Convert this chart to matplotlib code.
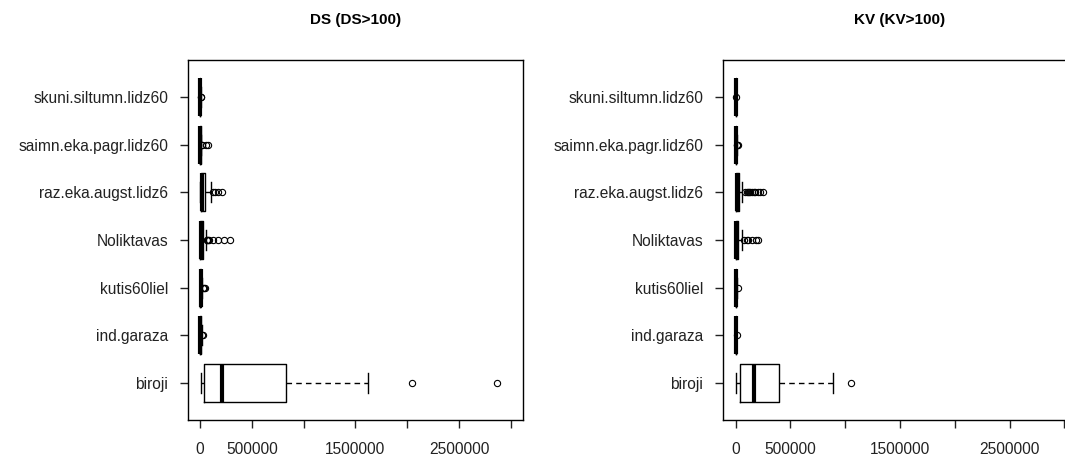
import matplotlib
matplotlib.use("Agg")
import matplotlib.pyplot as plt

plt.rcParams['font.family'] = ['Liberation Sans', 'DejaVu Sans']

categories = ['biroji', 'ind.garaza', 'kutis60liel', 'Noliktavas',
              'raz.eka.augst.lidz6', 'saimn.eka.pagr.lidz60', 'skuni.siltumn.lidz60']

# DS panel (DS>100)
ds_whislo = [10000, 0, 0, 0, 0, 0, 0]
ds_q1 = [36000, 2000, 3000, 3000, 5000, 1000, 1000]
ds_med = [215000, 4000, 6000, 8000, 15000, 3000, 2000]
ds_q3 = [830000, 8000, 10000, 25000, 45000, 6000, 4000]
ds_whishi = [1625000, 15000, 20000, 55000, 105000, 12000, 8000]
ds_fliers = [[2050000, 2865000],
             [20000, 25000],
             [30000, 40000, 50000],
             [65000, 72000, 80000, 90000, 130000, 177000, 235000, 290000],
             [125000, 140000, 175000, 215000],
             [18000, 22000, 55000, 80000],
             [11000, 14000]]

# KV panel (KV>100)
kv_whislo = [5000, 0, 0, 0, 0, 0, 0]
kv_q1 = [36000, 1000, 1000, 2000, 3000, 1000, 500]
kv_med = [167000, 2000, 2500, 6000, 8000, 2000, 1000]
kv_q3 = [398000, 4000, 5000, 22000, 33000, 4000, 2000]
kv_whishi = [885000, 7000, 10000, 55000, 60000, 8000, 3000]
kv_fliers = [[1052000],
             [9000],
             [25000],
             [76000, 100000, 115000, 152000, 182000, 206000],
             [85000, 100000, 115000, 125000, 135000, 150000, 165000, 180000, 200000, 220000, 246000],
             [12000, 15000, 18000],
             [5000]]

xticks = [0, 500000, 1000000, 1500000, 2000000, 2500000, 3000000]
xticklabels = ['0', '500000', '', '1500000', '', '2500000', '']
titles = ['DS (DS>100)', 'KV (KV>100)']

W, H = 1065, 457
fig = plt.figure(figsize=(W / 100, H / 100), dpi=100)

panels = [
    (ds_whislo, ds_q1, ds_med, ds_q3, ds_whishi, ds_fliers),
    (kv_whislo, kv_q1, kv_med, kv_q3, kv_whishi, kv_fliers),
]
# axes boxes in pixels: (left, right)
px_boxes = [(187.6, 523.2), (722.5, 1077.6)]
top_px, bot_px = 60, 420

for (wl, q1, md, q3, wh, fl), (l, r), title in zip(panels, px_boxes, titles):
    ax = fig.add_axes([l / W, 1 - bot_px / H, (r - l) / W, (bot_px - top_px) / H])
    stats = []
    for i, name in enumerate(categories):
        stats.append(dict(label=name, whislo=wl[i], q1=q1[i], med=md[i],
                          q3=q3[i], whishi=wh[i], fliers=fl[i]))
    ax.bxp(stats, positions=range(1, len(categories) + 1), vert=False,
           widths=0.8, capwidths=0.42, patch_artist=False,
           boxprops=dict(color='black', lw=1),
           medianprops=dict(color='black', lw=3, solid_capstyle='butt'),
           whiskerprops=dict(color='black', lw=1, linestyle=(0, (4, 3))),
           capprops=dict(color='black', lw=1),
           flierprops=dict(marker='o', markersize=4.5, markerfacecolor='none',
                           markeredgecolor='black', markeredgewidth=0.8))
    ax.set_xlim(-120000, 3120000)
    n = len(categories)
    ax.set_ylim(0.5 - 0.04 * n, n + 0.5 + 0.04 * n)
    ax.set_xticks(xticks)
    ax.set_xticklabels(xticklabels)
    ax.set_yticks(range(1, n + 1))
    ax.set_yticklabels(categories)
    ax.tick_params(axis='both', direction='out', length=6, width=1,
                   labelsize=11.2, colors='#222222')
    ax.tick_params(axis='x', pad=10)
    ax.tick_params(axis='y', pad=8)
    for s in ax.spines.values():
        s.set_color('black')
        s.set_linewidth(1)
    fig.text(((l + r) / 2) / W, 1 - 20 / H, title, ha='center', va='center',
             fontsize=11, fontweight='bold')

fig.savefig('out.png', dpi=100)
